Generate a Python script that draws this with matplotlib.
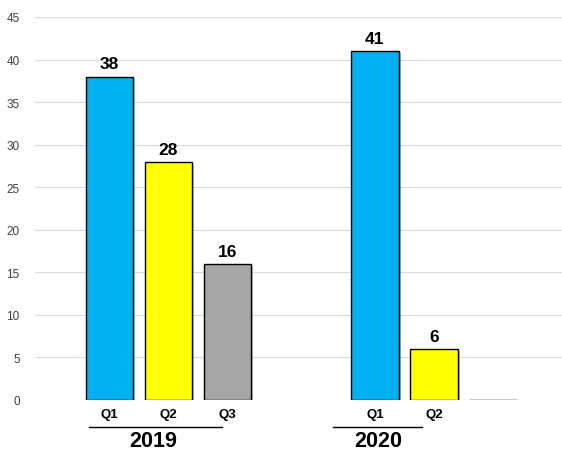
import matplotlib.pyplot as plt
import matplotlib.patheffects as pe

# ---------------- data ----------------
years = ['2019', '2020']
quarters_2019 = ['Q1', 'Q2', 'Q3']
values_2019 = [38, 28, 16]
quarters_2020 = ['Q1', 'Q2', '']
values_2020 = [41, 6, 0]
bar_colors = ['#00B0F0', '#FFFF00', '#A6A6A6']

# slot positions, gap of 1.5 slots between the years
pos_2019 = [0, 1, 2]
pos_2020 = [4.5, 5.5, 6.5]

fig = plt.figure(figsize=(5.62, 4.56), dpi=100)
ax = fig.add_axes([35/562, 1 - 401/456, 1 - 35/562, (401 - 18)/456])

shadow = [pe.SimplePatchShadow(offset=(1.5, -1.5), alpha=0.3), pe.Normal()]

for pos, vals in [(pos_2019, values_2019), (pos_2020, values_2020)]:
    bars = ax.bar(pos, vals, width=0.8, color=bar_colors, edgecolor='black',
                  linewidth=1.0, zorder=3)
    for b, v in zip(bars, vals):
        b.set_path_effects(shadow)
        if v > 0:
            ax.text(b.get_x() + b.get_width()/2, v + 0.6, str(v), ha='center',
                    va='bottom', fontsize=12.5, fontweight='bold',
                    family='Liberation Sans')

ax.set_ylim(0, 45)
ax.set_xlim(-1.26, 7.67)
ax.set_yticks(range(0, 46, 5))
ax.yaxis.grid(True, color='#D9D9D9', linewidth=0.8, zorder=0)
for s in ax.spines.values():
    s.set_visible(False)
ax.tick_params(axis='y', length=0, labelsize=8.5, labelcolor='#404040', pad=11)
for lbl in ax.get_yticklabels():
    lbl.set_family('Liberation Sans')
ax.set_xticks(pos_2019 + pos_2020)
ax.set_xticklabels(quarters_2019 + quarters_2020, fontsize=9.5, fontweight='bold',
                   family='Liberation Sans')
ax.tick_params(axis='x', length=0, pad=6)

# year group lines and labels
trans = ax.get_xaxis_transform()
group_lines = [(-0.35, 1.91), (3.79, 5.30)]
label_x = [0.75, 4.55]
for yr, (x0, x1), lx in zip(years, group_lines, label_x):
    ax.plot([x0, x1], [-0.071, -0.071], color='black', linewidth=1.0,
            transform=trans, clip_on=False)
    ax.text(lx, -0.079, yr, transform=trans, ha='center', va='top',
            fontsize=15.5, fontweight='bold', family='Liberation Sans')

fig.savefig('out.png', dpi=100)
